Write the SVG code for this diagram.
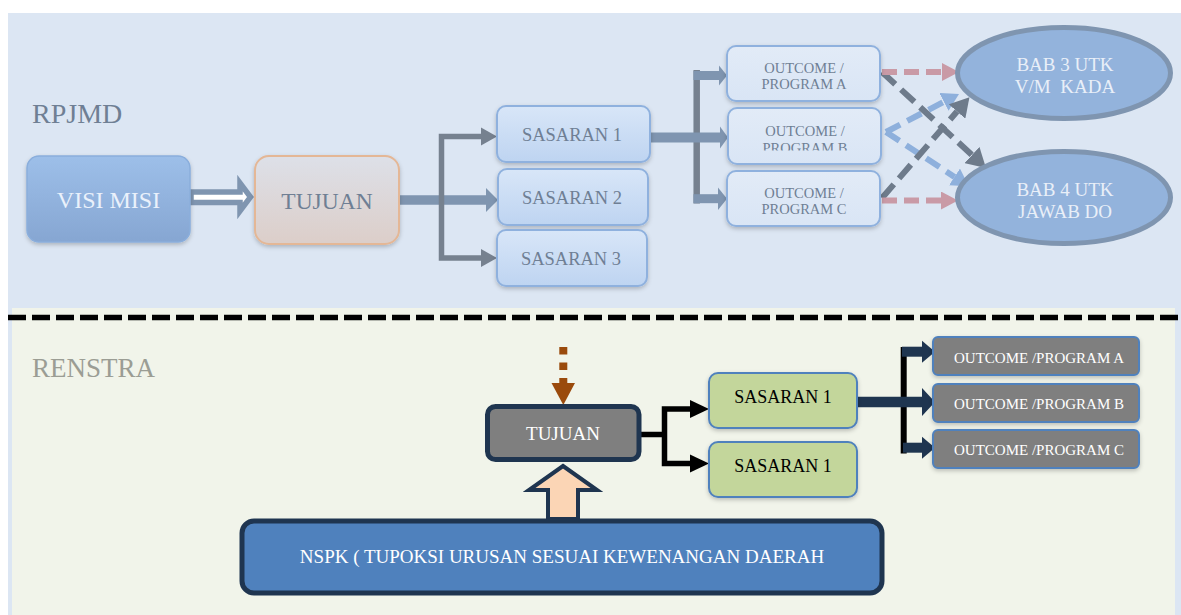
<svg xmlns="http://www.w3.org/2000/svg" width="1181" height="615" viewBox="0 0 1181 615">
<defs>
<style>
text{font-family:"Liberation Serif","DejaVu Serif",serif;text-anchor:middle}
.lbl{fill:#6f7f94}
.sas{fill:url(#gSas);stroke:#8fb1de;stroke-width:2}
.out{fill:url(#gOut);stroke:#8fb1de;stroke-width:2}
.st{font-size:18.5px}
.ot{font-size:14.5px}
.ell{fill:#93b3dc;stroke:#7f95b0;stroke-width:5}
.et{fill:#e9eff8;font-size:19px;white-space:pre}
.bout{fill:#7f7f7f;stroke:#4f81bd;stroke-width:2}
.bt{fill:#ffffff;font-size:15px}
.grn{fill:#c3d69b;stroke:#4f81bd;stroke-width:2}
.gt{fill:#000000;font-size:18px}
.navy{stroke:#1f3550;fill:none}
.blk{stroke:#000000;fill:none}
.bg{stroke:#7f95b0;fill:none}
.dk{stroke:#76818f;fill:none}
</style>
<linearGradient id="gSas" x1="0" y1="0" x2="0" y2="1"><stop offset="0" stop-color="#d8e6f8"/><stop offset="1" stop-color="#bed4f1"/></linearGradient>
<linearGradient id="gOut" x1="0" y1="0" x2="0" y2="1"><stop offset="0" stop-color="#e2ebf7"/><stop offset="1" stop-color="#d9e5f5"/></linearGradient>
<linearGradient id="gVisi" x1="0" y1="0" x2="0" y2="1"><stop offset="0" stop-color="#9dbfe9"/><stop offset="1" stop-color="#86a6d2"/></linearGradient>
<linearGradient id="gTuj" x1="0" y1="0" x2="0" y2="1"><stop offset="0" stop-color="#dde0e8"/><stop offset="1" stop-color="#dccec9"/></linearGradient>
<filter id="sh" x="-10%" y="-15%" width="120%" height="145%"><feDropShadow dx="0" dy="2" stdDeviation="2" flood-color="#000000" flood-opacity="0.22"/></filter>
<clipPath id="clipB"><rect x="728" y="108" width="153" height="42.5"/></clipPath>
<marker id="mPink" markerUnits="userSpaceOnUse" markerWidth="17" markerHeight="18" refX="0" refY="9" orient="auto"><path d="M0,0 L17,9 L0,18 Z" fill="#c99aa6"/></marker>
<marker id="mDark" markerUnits="userSpaceOnUse" markerWidth="19" markerHeight="22" refX="0" refY="11" orient="auto"><path d="M0,0 L19,11 L0,22 Z" fill="#6e7b8b"/></marker>
<marker id="mLight" markerUnits="userSpaceOnUse" markerWidth="17" markerHeight="20" refX="0" refY="10" orient="auto"><path d="M0,0 L17,10 L0,20 Z" fill="#8eb0dc"/></marker>
</defs>

<rect x="0" y="0" width="1181" height="615" fill="#ffffff"/>
<rect x="8" y="13" width="1173" height="602" fill="#dce6f3"/>
<rect x="12" y="308" width="1163" height="307" fill="#f1f4ea"/>
<line x1="8" y1="317.5" x2="1181" y2="317.5" stroke="#000000" stroke-width="5.5" stroke-dasharray="18 6"/>

<text x="32" y="123" font-size="28" fill="#6f7f94" style="text-anchor:start">RPJMD</text>
<text x="32" y="377" font-size="27" fill="#9b9d94" style="text-anchor:start">RENSTRA</text>

<g id="connectors">
  <!-- top -->
  <polygon points="191,192 240,192 240,183 250.5,197 240,211 240,202.5 191,202.5" fill="#ffffff" stroke="#7f95b0" stroke-width="5.5" stroke-linejoin="miter"/>
  <line x1="399" y1="200" x2="487" y2="200" class="bg" stroke-width="9.5"/>
  <polygon points="486,188 498,200 486,212" fill="#7f95b0"/>
  <path d="M482,136.5 H441.5 V258 H482" class="dk" stroke-width="5.5"/>
  <polygon points="481,127.5 497,136.5 481,145.5" fill="#76818f"/>
  <polygon points="481,249 497,258 481,267" fill="#76818f"/>
  <line x1="696.7" y1="70" x2="696.7" y2="203.5" class="dk" stroke-width="6.5"/>
  <line x1="650" y1="137.5" x2="721" y2="137.5" class="bg" stroke-width="10"/>
  <polygon points="720,126.5 728,137.5 720,148.5" fill="#7f95b0"/>
  <line x1="693.5" y1="75.5" x2="720" y2="75.5" class="bg" stroke-width="9"/>
  <polygon points="719,65.5 727,75.5 719,85.5" fill="#7f95b0"/>
  <line x1="693.5" y1="198.7" x2="720" y2="198.7" class="bg" stroke-width="9"/>
  <polygon points="718,187.5 727,198.7 718,210" fill="#7f95b0"/>
  <!-- dashed to ellipses -->
  <line x1="886" y1="132" x2="943.9" y2="101.8" stroke="#8eb0dc" stroke-width="6" stroke-dasharray="16 8" marker-end="url(#mLight)"/>
  <line x1="886" y1="132" x2="954.5" y2="176.9" stroke="#8eb0dc" stroke-width="6" stroke-dasharray="16 8" marker-end="url(#mLight)"/>
  <line x1="882" y1="72" x2="972" y2="155" stroke="#6e7b8b" stroke-width="6" stroke-dasharray="18 8" marker-end="url(#mDark)"/>
  <line x1="882" y1="198" x2="957" y2="111.5" stroke="#6e7b8b" stroke-width="6" stroke-dasharray="18 8" marker-end="url(#mDark)"/>
  <line x1="882" y1="72" x2="942" y2="72" stroke="#c99aa6" stroke-width="6" stroke-dasharray="15 7" marker-end="url(#mPink)"/>
  <line x1="882" y1="200.5" x2="941" y2="200.5" stroke="#c99aa6" stroke-width="6" stroke-dasharray="15 7" marker-end="url(#mPink)"/>
  <!-- bottom -->
  <line x1="563.3" y1="347" x2="563.3" y2="386" stroke="#9a4a0c" stroke-width="8" stroke-dasharray="7.5 8"/>
  <polygon points="551.5,383 575,383 563.3,405" fill="#9a4a0c"/>
  <polygon points="563,466 597,490 578,490 578,519 548,519 548,490 529,490" fill="#fbd5b5" stroke="#1f3550" stroke-width="4" stroke-linejoin="miter"/>
  <path d="M641,434.5 H664.5" class="blk" stroke-width="5.5"/>
  <path d="M691,409 H664.5 V463.5 H691" class="blk" stroke-width="5.5"/>
  <polygon points="690,400 709,409 690,418" fill="#000000"/>
  <polygon points="690,454.5 709,463.5 690,472.5" fill="#000000"/>
  <line x1="903.7" y1="347" x2="903.7" y2="453.5" class="blk" stroke-width="6"/>
  <line x1="857" y1="402" x2="923" y2="402" class="navy" stroke-width="10.5"/>
  <polygon points="922,388 935,402 922,416" fill="#1f3550"/>
  <line x1="902" y1="351.7" x2="923" y2="351.7" class="navy" stroke-width="10"/>
  <polygon points="922,340.7 935,351.7 922,362.7" fill="#1f3550"/>
  <line x1="903" y1="447.7" x2="923" y2="447.7" class="navy" stroke-width="10"/>
  <polygon points="922,436.7 935,447.7 922,458.7" fill="#1f3550"/>
</g>

<g id="visi-misi">
  <rect x="27" y="156" width="163" height="86" rx="12" fill="url(#gVisi)" stroke="#8aaedc" stroke-width="1.5" filter="url(#sh)"/>
  <text x="108.5" y="208" font-size="24" fill="#eaf1fb">VISI MISI</text>
</g>
<g id="tujuan-rpjmd">
  <rect x="255" y="156" width="144" height="88" rx="14" fill="url(#gTuj)" stroke="#e4b796" stroke-width="2" filter="url(#sh)"/>
  <text x="327" y="209" font-size="23.5" class="lbl">TUJUAN</text>
</g>
<g id="sasaran-1">
  <rect x="497" y="106" width="153" height="56" rx="9" class="sas" filter="url(#sh)"/>
  <text x="572" y="141" class="lbl st">SASARAN 1</text>
</g>
<g id="sasaran-2">
  <rect x="498" y="169" width="150" height="56" rx="9" class="sas" filter="url(#sh)"/>
  <text x="572" y="204" class="lbl st">SASARAN 2</text>
</g>
<g id="sasaran-3">
  <rect x="497" y="230" width="150" height="56" rx="9" class="sas" filter="url(#sh)"/>
  <text x="571" y="265" class="lbl st">SASARAN 3</text>
</g>
<g id="outcome-a">
  <rect x="727" y="46" width="153" height="55" rx="9" class="out" filter="url(#sh)"/>
  <text x="804" y="73" class="lbl ot">OUTCOME /</text>
  <text x="804" y="89" class="lbl ot">PROGRAM A</text>
</g>
<g id="outcome-b">
  <rect x="728" y="108" width="153" height="56" rx="9" class="out" filter="url(#sh)"/>
  <text x="805" y="136" class="lbl ot">OUTCOME /</text>
  <text x="805" y="152.5" class="lbl ot" clip-path="url(#clipB)">PROGRAM B</text>
</g>
<g id="outcome-c">
  <rect x="727" y="171" width="153" height="55" rx="9" class="out" filter="url(#sh)"/>
  <text x="804" y="198" class="lbl ot">OUTCOME /</text>
  <text x="804" y="214" class="lbl ot">PROGRAM C</text>
</g>
<g id="bab-3">
  <ellipse cx="1064" cy="73" rx="106.5" ry="45.5" class="ell"/>
  <text x="1065" y="71" class="et">BAB 3 UTK</text>
  <text x="1065" y="93" class="et">V/M  KADA</text>
</g>
<g id="bab-4">
  <ellipse cx="1064" cy="197.5" rx="106.5" ry="46" class="ell"/>
  <text x="1065" y="196" class="et">BAB 4 UTK</text>
  <text x="1065" y="218" class="et">JAWAB DO</text>
</g>

<g id="tujuan-renstra">
  <rect x="487.5" y="406.5" width="151.5" height="53" rx="8" fill="#7f7f7f" stroke="#1f3550" stroke-width="5"/>
  <text x="563" y="440" font-size="19" fill="#ffffff">TUJUAN</text>
</g>
<g id="nspk">
  <rect x="242" y="521" width="640" height="72" rx="12" fill="#4f81bd" stroke="#1f3550" stroke-width="5"/>
  <text x="562" y="563" font-size="19" fill="#ffffff">NSPK ( TUPOKSI URUSAN SESUAI KEWENANGAN DAERAH</text>
</g>
<g id="sasaran-1-renstra-a">
  <rect x="709" y="373" width="148" height="55" rx="9" class="grn" filter="url(#sh)"/>
  <text x="783" y="403" class="gt">SASARAN 1</text>
</g>
<g id="sasaran-1-renstra-b">
  <rect x="709" y="442" width="148" height="55" rx="9" class="grn" filter="url(#sh)"/>
  <text x="783" y="472" class="gt">SASARAN 1</text>
</g>
<g id="outcome-renstra-a">
  <rect x="933" y="337" width="206" height="38" rx="5" class="bout" filter="url(#sh)"/>
  <text x="1039" y="363" class="bt">OUTCOME /PROGRAM A</text>
</g>
<g id="outcome-renstra-b">
  <rect x="933" y="384" width="206" height="38" rx="5" class="bout" filter="url(#sh)"/>
  <text x="1039" y="408.5" class="bt">OUTCOME /PROGRAM B</text>
</g>
<g id="outcome-renstra-c">
  <rect x="933" y="430" width="206" height="38" rx="5" class="bout" filter="url(#sh)"/>
  <text x="1039" y="455" class="bt">OUTCOME /PROGRAM C</text>
</g>
</svg>
